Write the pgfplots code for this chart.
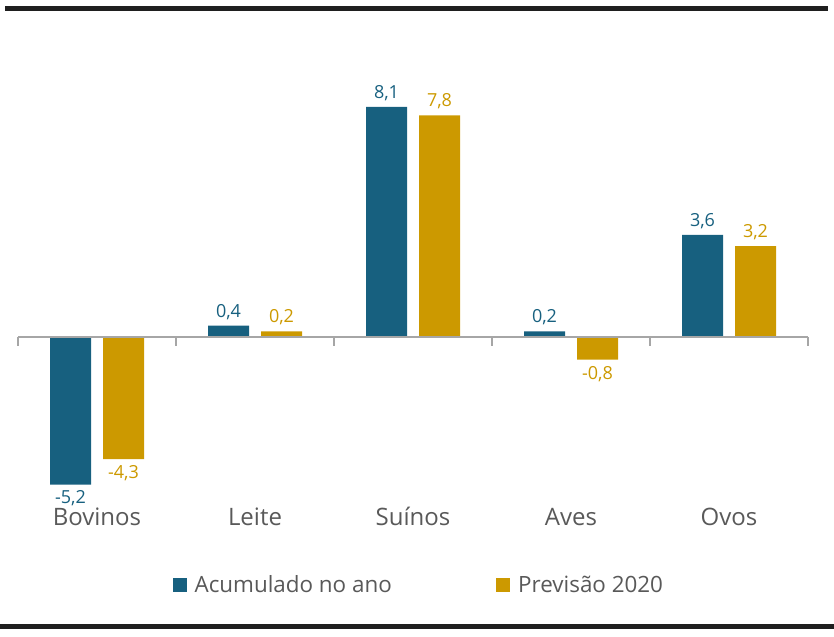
\documentclass[border=0pt]{standalone}
\usepackage{fontspec}
\setmainfont{Open Sans}
\usepackage{pgfplots}
\pgfplotsset{compat=1.18}
\definecolor{acum}{HTML}{17607F}
\definecolor{prev}{HTML}{CC9900}
\definecolor{txt}{HTML}{595959}
\definecolor{axgray}{HTML}{A6A6A6}

\begin{document}
\begin{tikzpicture}
\useasboundingbox (0,0) rectangle (625.5pt,477pt);
% frame lines top and bottom
\fill[black!88] (3.75pt,468.75pt) rectangle (621pt,472.5pt);
\fill[black!88] (0pt,5.25pt) rectangle (625.5pt,9pt);
\begin{axis}[
    at={(13.5pt,96.45pt)}, anchor=south west,
    scale only axis,
    width=592.5pt, height=319.5pt,
    xmin=0, xmax=5, ymin=-6, ymax=9,
    clip=false,
    ybar=9pt, bar width=30.75pt,
    axis line style={draw=none},
    major tick length=0pt,
    ytick=\empty,
    xtick={0.5,1.5,2.5,3.5,4.5},
    xticklabels={Bovinos,Leite,Suínos,Aves,Ovos},
    xticklabel style={font=\fontsize{18}{21}\selectfont, text=txt, anchor=base, yshift=-13.3pt},
    /pgf/number format/.cd, use comma, fixed, fixed zerofill, precision=1, assume math mode=true,
    /pgfplots/.cd,
    nodes near coords,
    every node near coord/.append style={font=\fontsize{13.5}{16}\selectfont, inner ysep=4.5pt},
    legend style={draw=none, at={(0.508,-0.182)}, anchor=center,
        font=\fontsize{16.8}{20}\selectfont, text=txt,
        /tikz/every even column/.append style={column sep=76.5pt}},
    legend columns=2,
    legend image code/.code={\fill[#1] (0pt,-5.25pt) rectangle (10.5pt,5.25pt); \path (14.25pt,0pt);},
]
\addplot[fill=acum, draw=none, every node near coord/.append style={text=acum}]
    coordinates {(0.5,-5.2) (1.5,0.4) (2.5,8.1) (3.5,0.2) (4.5,3.6)};
\addlegendentry{Acumulado no ano}
\addplot[fill=prev, draw=none, every node near coord/.append style={text=prev}]
    coordinates {(0.5,-4.3) (1.5,0.2) (2.5,7.8) (3.5,-0.8) (4.5,3.2)};
\addlegendentry{Previsão 2020}
\draw[axgray, line width=1pt] (axis cs:0,0) -- (axis cs:5,0);
\pgfplotsinvokeforeach{0,...,5}{\draw[axgray, line width=1pt] (axis cs:#1,0) -- ++(0pt,-6.75pt);}
\end{axis}
\end{tikzpicture}
\end{document}
